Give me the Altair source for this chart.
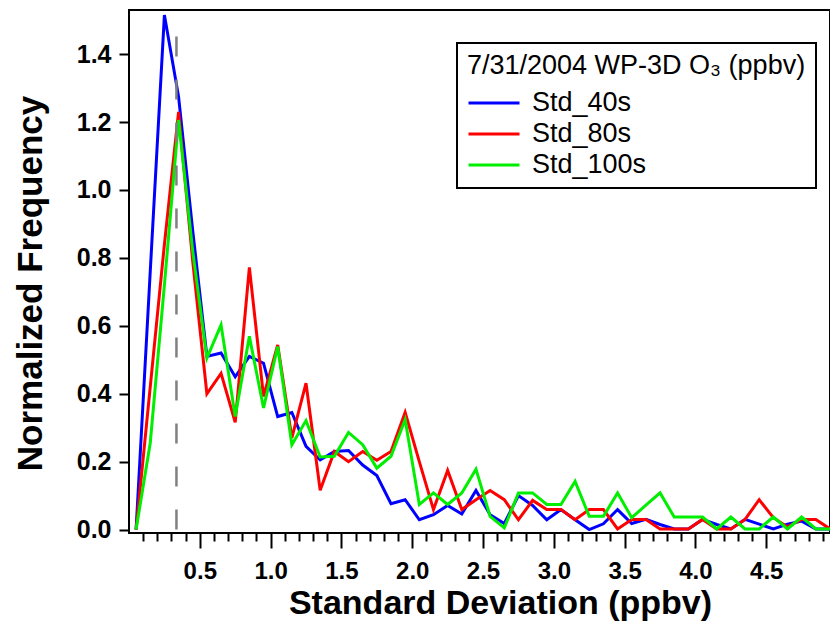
import altair as alt
import pandas as pd

# Bin centres (ppbv)
std_dev = [0.05, 0.15, 0.25, 0.35, 0.45, 0.55, 0.65, 0.75, 0.85, 0.95,
           1.05, 1.15, 1.25, 1.35, 1.45, 1.55, 1.65, 1.75, 1.85, 1.95,
           2.05, 2.15, 2.25, 2.35, 2.45, 2.55, 2.65, 2.75, 2.85, 2.95,
           3.05, 3.15, 3.25, 3.35, 3.45, 3.55, 3.65, 3.75, 3.85, 3.95,
           4.05, 4.15, 4.25, 4.35, 4.45, 4.55, 4.65, 4.75, 4.85, 4.95]

std_40s = [0.0, 0.76, 1.515, 1.275, 0.88, 0.51, 0.52, 0.45, 0.51, 0.49,
           0.333, 0.345, 0.245, 0.205, 0.23, 0.233, 0.19, 0.159, 0.076, 0.088,
           0.029, 0.044, 0.071, 0.046, 0.115, 0.044, 0.018, 0.10, 0.071, 0.029,
           0.059, 0.029, 0.0, 0.017, 0.059, 0.018, 0.03, 0.015, 0.002, 0.002,
           0.03, 0.015, 0.002, 0.03, 0.016, 0.002, 0.016, 0.025, 0.002, 0.002]

std_80s = [0.0, 0.42, 0.84, 1.23, 0.79, 0.40, 0.46, 0.316, 0.772, 0.392,
           0.544, 0.27, 0.431, 0.116, 0.23, 0.20, 0.23, 0.204, 0.23, 0.345,
           0.20, 0.059, 0.174, 0.059, 0.088, 0.115, 0.088, 0.029, 0.086, 0.059,
           0.059, 0.029, 0.059, 0.059, 0.002, 0.03, 0.03, 0.002, 0.002, 0.002,
           0.03, 0.002, 0.002, 0.03, 0.088, 0.035, 0.008, 0.03, 0.03, 0.002]

std_100s = [0.0, 0.255, 0.72, 1.206, 0.82, 0.505, 0.603, 0.333, 0.569, 0.358,
            0.539, 0.25, 0.321, 0.214, 0.216, 0.286, 0.25, 0.181, 0.216, 0.324,
            0.074, 0.108, 0.074, 0.108, 0.178, 0.039, 0.005, 0.108, 0.108, 0.074,
            0.074, 0.142, 0.039, 0.039, 0.108, 0.035, 0.072, 0.108, 0.037, 0.037,
            0.037, 0.002, 0.037, 0.002, 0.002, 0.037, 0.002, 0.037, 0.002, 0.002]

series_names = ["Std_40s", "Std_80s", "Std_100s"]
series_colors = ["#0000ff", "#ff0000", "#00ee00"]

x_major_ticks = [0.5, 1.0, 1.5, 2.0, 2.5, 3.0, 3.5, 4.0, 4.5]
x_minor_ticks = [0.1, 0.2, 0.3, 0.4, 0.6, 0.7, 0.8, 0.9, 1.1, 1.2, 1.3, 1.4,
                 1.6, 1.7, 1.8, 1.9, 2.1, 2.2, 2.3, 2.4, 2.6, 2.7, 2.8, 2.9,
                 3.1, 3.2, 3.3, 3.4, 3.6, 3.7, 3.8, 3.9, 4.1, 4.2, 4.3, 4.4,
                 4.6, 4.7, 4.8, 4.9]
y_ticks = [0.0, 0.2, 0.4, 0.6, 0.8, 1.0, 1.2, 1.4]

cutoff_x = [0.335]
cutoff_y0 = [0.0]
cutoff_y1 = [1.462]

rows = []
for name, vals in zip(series_names, [std_40s, std_80s, std_100s]):
    for xv, yv in zip(std_dev, vals):
        rows.append({"sd": xv, "freq": yv, "series": name})
df = pd.DataFrame(rows)
cut_df = pd.DataFrame({"sd": cutoff_x, "y0": cutoff_y0, "y1": cutoff_y1})

FONT = "Liberation Sans"
x_scale = alt.Scale(domain=[0, 4.95], nice=False, zero=False)
y_scale = alt.Scale(domain=[-0.01, 1.53], nice=False, zero=False)

y_axis = alt.Axis(values=y_ticks, format=".1f", title="Normalized Frequency",
                  tickSize=10, labelPadding=8, titlePadding=28, titleY=273,
                  labelFontSize=25, titleFontSize=35)

lines = alt.Chart(df).mark_line(strokeWidth=3, clip=True).encode(
    x=alt.X("sd:Q", scale=x_scale,
            axis=alt.Axis(values=x_major_ticks, format=".1f",
                          title="Standard Deviation (ppbv)", orient="bottom",
                          tickSize=15, labelPadding=11, titlePadding=3,
                          titleX=371,
                          labelFontSize=24, titleFontSize=34)),
    y=alt.Y("freq:Q", scale=y_scale, axis=y_axis),
    color=alt.Color("series:N",
                    scale=alt.Scale(domain=series_names, range=series_colors),
                    legend=alt.Legend(title="7/31/2004 WP-3D O\u2083 (ppbv)",
                                      orient="none", legendX=328, legendY=33,
                                      direction="vertical",
                                      symbolType="stroke", symbolSize=2600,
                                      symbolStrokeWidth=3,
                                      labelFont=FONT, titleFont=FONT,
                                      labelFontSize=27, titleFontSize=27,
                                      titleFontWeight="normal",
                                      labelColor="black", titleColor="black",
                                      strokeColor="black", fillColor="white",
                                      padding=10, labelOffset=11,
                                      clipHeight=26, rowPadding=4,
                                      titlePadding=10, titleLimit=600,
                                      labelLimit=300)),
)

rule = alt.Chart(cut_df).mark_rule(strokeDash=[20, 23], color="#808080",
                                   strokeWidth=2.5).encode(
    x=alt.X("sd:Q", scale=x_scale,
            axis=alt.Axis(values=x_minor_ticks, labels=False, tickSize=8,
                          title=None, orient="bottom")),
    y=alt.Y("y0:Q", scale=y_scale, axis=y_axis),
    y2="y1:Q",
)

chart = alt.layer(lines, rule).resolve_axis(x="independent").properties(
    width=701, height=523, autosize="none",
    padding={"left": 121, "top": 2, "right": 0, "bottom": 89},
).configure_view(stroke="black", strokeWidth=2).configure_axis(
    labelFont=FONT, titleFont=FONT, labelFontWeight="bold",
    titleFontWeight="bold", labelColor="black", titleColor="black",
    tickColor="black", tickWidth=2, grid=False, domain=False,
).configure_legend(strokeWidth=2)

chart.save("out.html", embed_options={"renderer": "svg", "actions": False})
